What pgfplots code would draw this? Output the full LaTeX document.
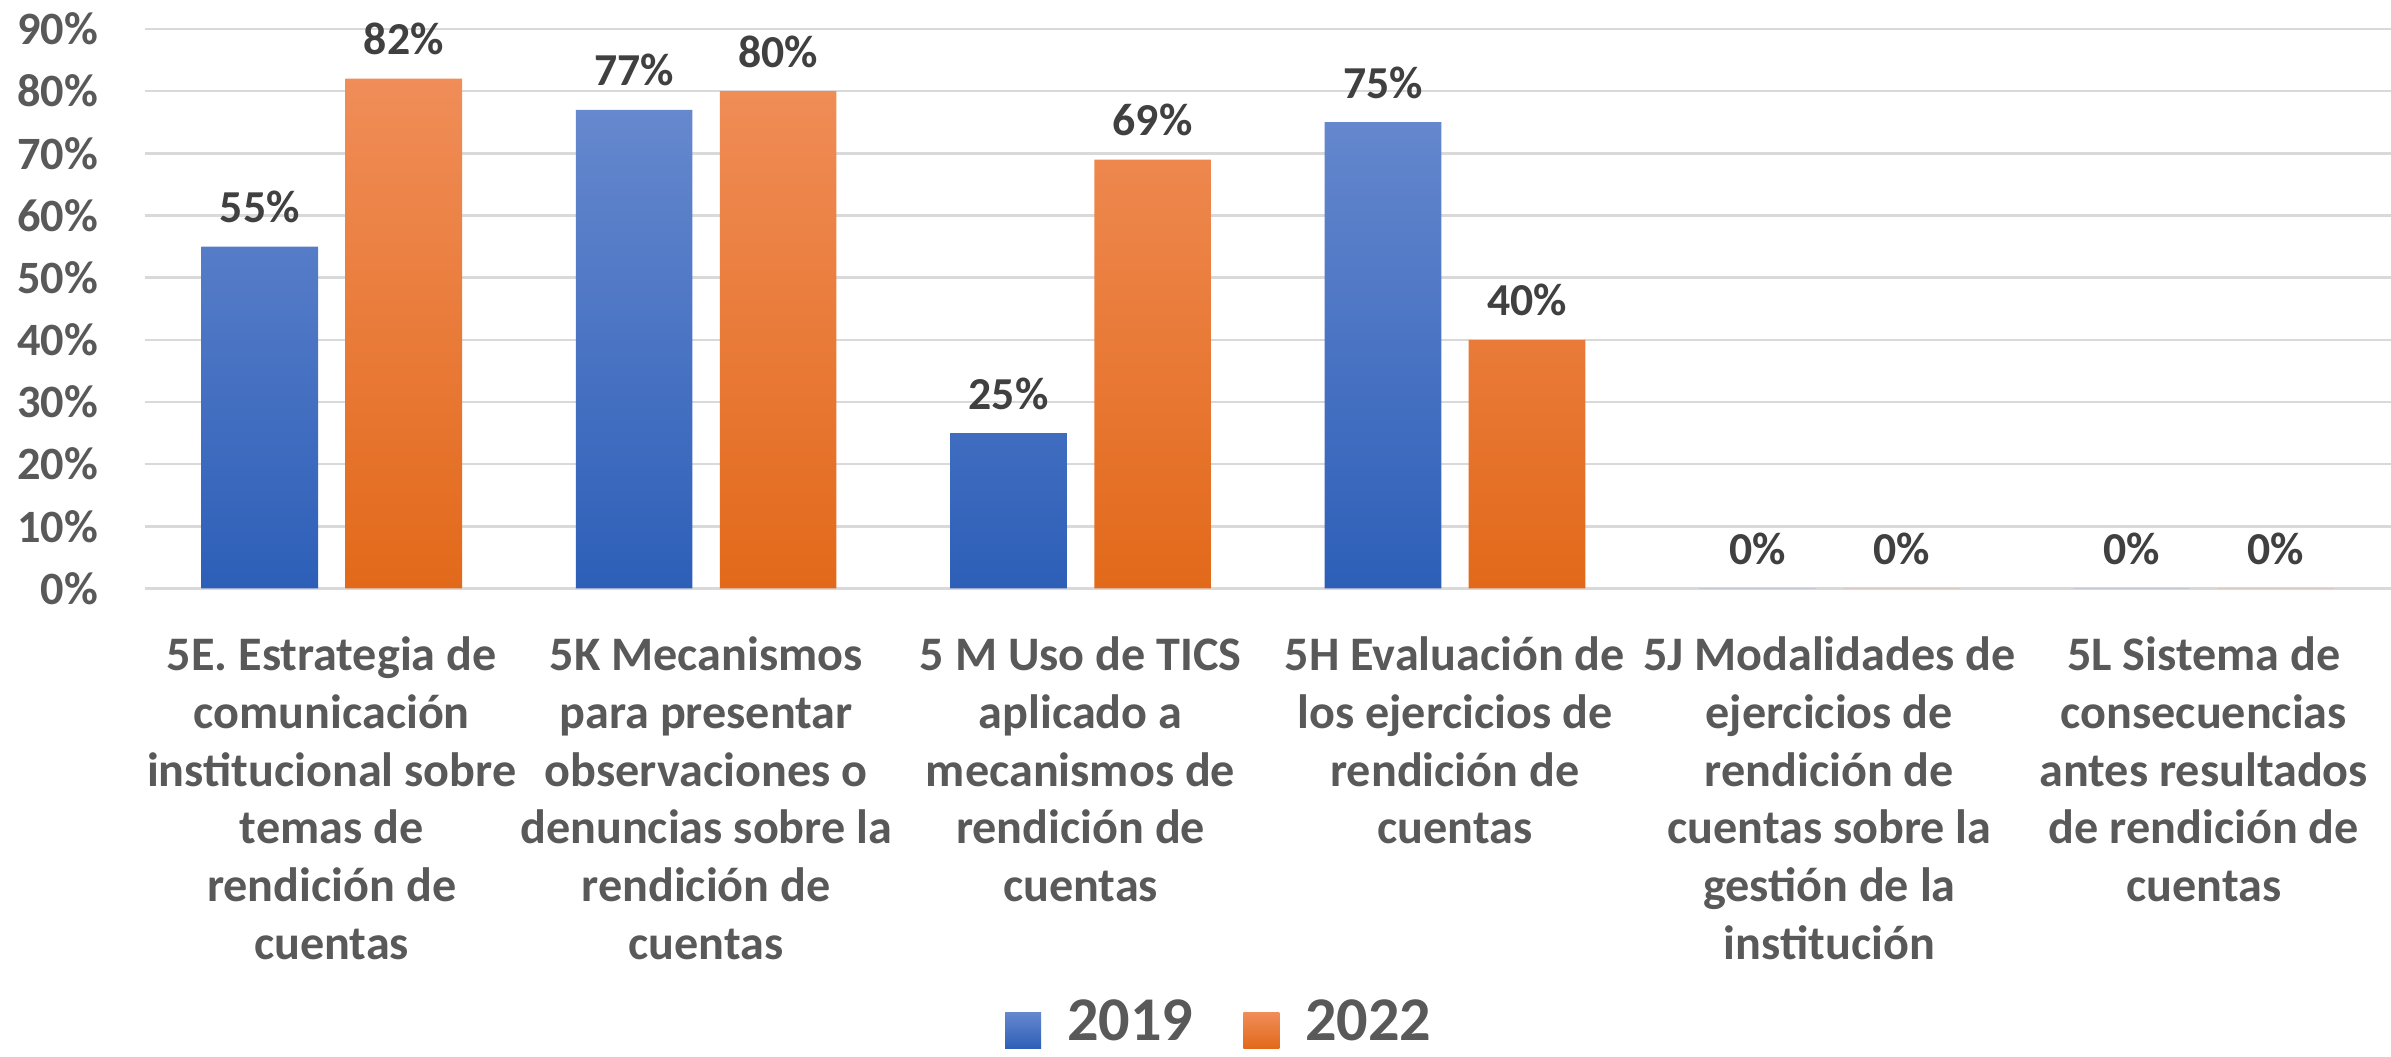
\documentclass[border=0pt]{standalone}
\usepackage{fontspec}
\setmainfont{Carlito}
\usepackage{pgfplots}
\pgfplotsset{compat=1.18}
\definecolor{txt}{HTML}{595959}
\definecolor{lbl}{HTML}{404040}
\definecolor{gridc}{HTML}{D9D9D9}
\definecolor{blueT}{HTML}{6688CE}
\definecolor{blueB}{HTML}{2D5FB8}
\definecolor{orgT}{HTML}{F08D58}
\definecolor{orgB}{HTML}{E2691A}
\begin{document}
\begin{tikzpicture}
\useasboundingbox (-47.4pt,-153.5pt) rectangle (736.8pt,193pt);
\begin{axis}[
  scale only axis, width=736.8pt, height=183.5pt,
  xmin=-0.5, xmax=5.5, ymin=0, ymax=90,
  ybar=9pt, bar width=38.25pt,
  axis line style={draw=none},
  ymajorgrids, grid style={gridc, line width=0.8pt},
  ytick={0,10,...,90}, major tick length=0pt,
  xtick=data,
  xticklabels={
    {5E. Estrategia de\\comunicación\\institucional sobre\\temas de\\rendición de\\cuentas},
    {5K Mecanismos\\para presentar\\observaciones o\\denuncias sobre la\\rendición de\\cuentas},
    {5 M Uso de TICS\\aplicado a\\mecanismos de\\rendición de\\cuentas},
    {5H Evaluación de\\los ejercicios de\\rendición de\\cuentas},
    {5J Modalidades de\\ejercicios de\\rendición de\\cuentas sobre la\\gestión de la\\institución},
    {5L Sistema de\\consecuencias\\antes resultados\\de rendición de\\cuentas}},
  /pgf/number format/assume math mode=true,
  yticklabel={\pgfmathprintnumber{\tick}\%},
  yticklabel style={font=\bfseries\fontsize{15.2}{18}\selectfont, text=txt, inner sep=0pt, xshift=-15.1pt},
  xticklabel style={font=\bfseries\fontsize{15.8}{19}\selectfont, text=txt, align=center, anchor=north, inner sep=0pt, yshift=-15.5pt},
  nodes near coords={\pgfmathprintnumber{\pgfplotspointmeta}\%},
  every node near coord/.append style={font=\bfseries\fontsize{15}{18}\selectfont, text=lbl, anchor=south, inner sep=0pt, yshift=7.5pt},
  legend style={at={(0.478,-0.779)}, anchor=center, draw=none, fill=none,
    legend columns=2, font=\bfseries\fontsize{20.4}{24}\selectfont, text=txt,
    nodes={inner sep=0pt},
    /tikz/every odd column/.append style={column sep=8.5pt},
    /tikz/every even column/.append style={column sep=16.5pt}},
  legend image code/.code={\path[#1, draw=none] (0pt,-8.4pt) rectangle (11.8pt,3.4pt);},
]
\addplot[draw=none, top color=blueT, bottom color=blueB] coordinates {(0,55) (1,77) (2,25) (3,75) (4,0) (5,0)};
\addplot[draw=none, top color=orgT, bottom color=orgB] coordinates {(0,82) (1,80) (2,69) (3,40) (4,0) (5,0)};
\legend{2019, 2022}
\end{axis}
\end{tikzpicture}
\end{document}
